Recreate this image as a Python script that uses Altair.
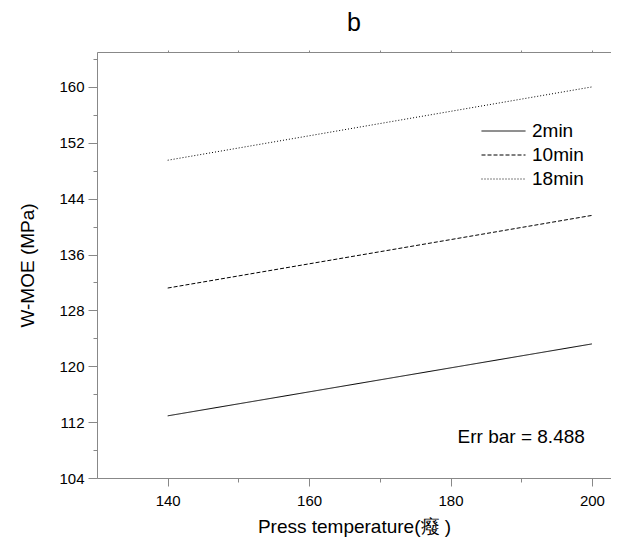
import altair as alt
import pandas as pd

# ---- data ----
temps = [140, 200]
series = ["2min", "10min", "18min"]
moe_2min = [112.9, 123.2]
moe_10min = [131.2, 141.6]
moe_18min = [149.5, 160.0]

x_major = [140, 160, 180, 200]
x_minor = [150, 170, 190]
x_all = [140, 150, 160, 170, 180, 190, 200]
y_major = [104, 112, 120, 128, 136, 144, 152, 160]
y_minor = [108, 116, 124, 132, 140, 148, 156, 164]

err_text = ["Err bar = 8.488"]
err_x = [199.0]
err_y = [109.9]

rows = []
for name, vals in zip(series, [moe_2min, moe_10min, moe_18min]):
    for t, v in zip(temps, vals):
        rows.append({"temp": t, "moe": v, "series": name})
df = pd.DataFrame(rows)

FONT = "Liberation Sans, Arial, Noto Sans CJK SC, sans-serif"

xscale = alt.Scale(domain=[130, 202.7], nice=False, zero=False)
yscale = alt.Scale(domain=[104, 165], nice=False, zero=False)

dash = alt.Scale(domain=series, range=[[1, 0], [4, 2], [1, 2]])

lines = alt.Chart(df).mark_line(strokeWidth=1, color="black").encode(
    x=alt.X("temp:Q", scale=xscale,
            axis=alt.Axis(orient="bottom", values=x_major, title="Press temperature(癈 )",
                          tickSize=8, labelFontSize=15, titleFontSize=19,
                          titleFontWeight="normal", labelPadding=7,
                          titleY=48, titleBaseline="middle", grid=False)),
    y=alt.Y("moe:Q", scale=yscale,
            axis=alt.Axis(orient="left", values=y_major, title="W-MOE (MPa)",
                          tickSize=9, labelFontSize=15, titleFontSize=19,
                          titleFontWeight="normal", labelPadding=4,
                          titleX=-70, titleBaseline="middle", grid=False)),
    strokeDash=alt.StrokeDash("series:N", scale=dash,
                              legend=alt.Legend(title=None, orient="none",
                                                legendX=384, legendY=68,
                                                symbolType="stroke",
                                                symbolSize=1936,
                                                symbolStrokeWidth=1,
                                                symbolStrokeColor="black",
                                                labelFontSize=19,
                                                labelFont=FONT,
                                                labelOffset=6,
                                                clipHeight=22,
                                                rowPadding=2)),
    detail="series:N",
)

minor = alt.Chart(df).mark_line(opacity=0).encode(
    x=alt.X("temp:Q", scale=xscale,
            axis=alt.Axis(orient="bottom", values=x_minor, labels=False, title=None,
                          tickSize=4, domain=False, grid=False)),
    y=alt.Y("moe:Q", scale=yscale,
            axis=alt.Axis(orient="left", values=y_minor, labels=False, title=None,
                          tickSize=4, domain=False, grid=False)),
    detail="series:N",
)

top = alt.Chart(df).mark_line(opacity=0).encode(
    x=alt.X("temp:Q", scale=xscale,
            axis=alt.Axis(orient="top", values=x_all, labels=False, title=None,
                          tickSize=2, grid=False)),
    detail="series:N",
)

err_df = pd.DataFrame({"x": err_x, "y": err_y, "t": err_text})
err = alt.Chart(err_df).mark_text(align="right", baseline="middle", fontSize=19,
                                  font=FONT, color="black").encode(
    x=alt.X("x:Q", scale=xscale, axis=None),
    y=alt.Y("y:Q", scale=yscale, axis=None),
    text="t:N",
)

chart = alt.layer(lines, minor, top, err).resolve_axis(
    x="independent", y="independent"
).properties(
    width=514, height=426,
    title=alt.Title("b", fontSize=25, fontWeight="normal", font=FONT, offset=14),
    autosize=alt.AutoSizeParams(type="none"),
    padding={"left": 89, "top": 44, "right": 0, "bottom": 61},
).configure_view(stroke="transparent").configure_axis(
    domainColor="black", domainWidth=1.5, tickColor="black", tickWidth=1.2,
    labelColor="black", titleColor="black", labelFont=FONT, titleFont=FONT,
).configure(background="white")

chart.save("out.html", embed_options={"renderer": "svg", "actions": False})
